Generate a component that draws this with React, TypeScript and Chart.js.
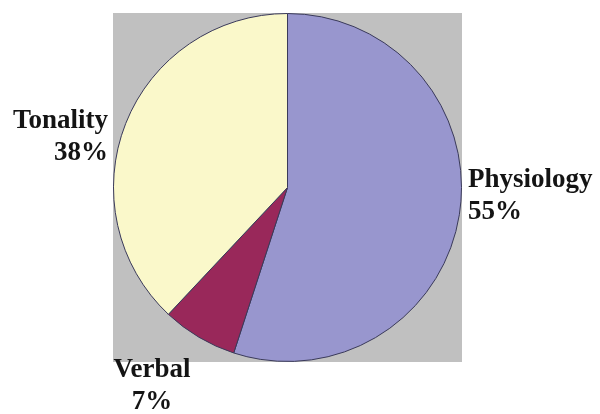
import React, { useEffect, useRef } from "react";
import { Chart, registerables } from "chart.js";

Chart.register(...registerables);

const categories = ["Physiology", "Verbal", "Tonality"];
const values = [55, 7, 38];
const colors = ["#9896CE", "#99285A", "#FAF8CA"];

type LabelSpec = { align: CanvasTextAlign };
const labelSpecs: LabelSpec[] = [
  { align: "left" },
  { align: "center" },
  { align: "right" },
];

const bgPlugin = {
  id: "grayBg",
  beforeDraw(chart: any) {
    const { ctx, chartArea } = chart;
    ctx.save();
    ctx.fillStyle = "#C0C0C0";
    ctx.fillRect(chartArea.left, chartArea.top, chartArea.right - chartArea.left, chartArea.bottom - chartArea.top);
    ctx.restore();
  },
};

const labelPlugin = {
  id: "sliceLabels",
  afterDraw(chart: any) {
    const { ctx, chartArea } = chart;
    const total = values.reduce((a, b) => a + b, 0);
    ctx.save();
    ctx.font = "bold 27px 'Liberation Serif', 'Times New Roman', serif";
    ctx.fillStyle = "#141414";
    ctx.textBaseline = "alphabetic";
    const pos = [
      { x: chartArea.right + 6, y: chartArea.top + 174 },
      { x: chartArea.left + 39, y: chartArea.bottom + 15 },
      { x: chartArea.left - 5, y: chartArea.top + 115 },
    ];
    categories.forEach((c, i) => {
      const pct = Math.round((values[i] / total) * 100) + "%";
      ctx.textAlign = labelSpecs[i].align;
      ctx.fillText(c, pos[i].x, pos[i].y);
      ctx.fillText(pct, pos[i].x, pos[i].y + 32);
    });
    ctx.restore();
  },
};

export default function App() {
  const ref = useRef<HTMLCanvasElement>(null);
  useEffect(() => {
    document.body.style.margin = "0";
    const chart = new Chart(ref.current!, {
      type: "pie",
      data: {
        labels: categories,
        datasets: [
          {
            data: values,
            backgroundColor: colors,
            borderColor: "#3a3a5a",
            borderWidth: 1,
          },
        ],
      },
      options: {
        animation: false,
        responsive: false,
        layout: { padding: { left: 113, right: 138, top: 13, bottom: 52 } },
        plugins: { legend: { display: false }, tooltip: { enabled: false } },
      },
      plugins: [bgPlugin, labelPlugin],
    });
    return () => chart.destroy();
  }, []);
  return (
    <div style={{ width: 600, height: 414, background: "#fff" }}>
      <canvas ref={ref} width={600} height={414} />
    </div>
  );
}
